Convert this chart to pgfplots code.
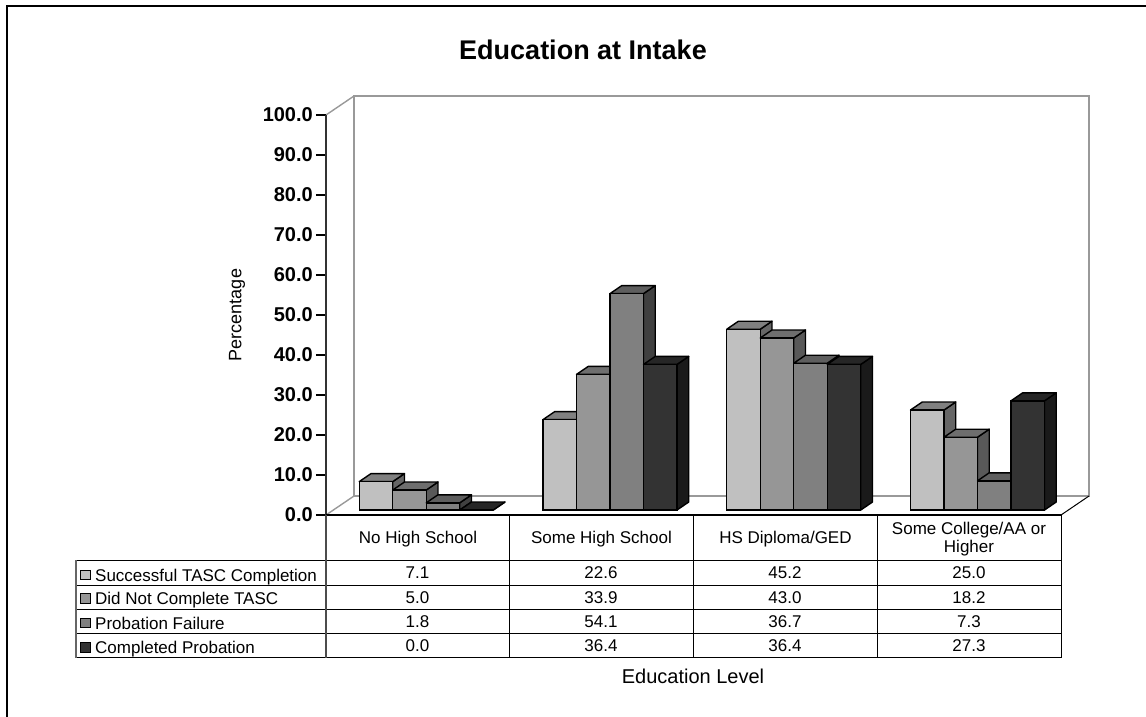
\documentclass[border=0pt]{standalone}
\usepackage{fontspec}
\setmainfont{Liberation Sans}
\usepackage{pgfplots}
\pgfplotsset{compat=1.18}

\definecolor{wallgray}{HTML}{999999}
\definecolor{frontA}{HTML}{C0C0C0}
\definecolor{topA}{HTML}{808080}
\definecolor{sideA}{HTML}{666666}
\definecolor{frontB}{HTML}{969696}
\definecolor{topB}{HTML}{6E6E6E}
\definecolor{sideB}{HTML}{595959}
\definecolor{frontC}{HTML}{808080}
\definecolor{topC}{HTML}{5E5E5E}
\definecolor{sideC}{HTML}{404040}
\definecolor{frontD}{HTML}{333333}
\definecolor{topD}{HTML}{262626}
\definecolor{sideD}{HTML}{1A1A1A}

% depth of a bar: 11.7px across, 8px up (4px per percent, 183.75px per category)
\newcommand{\barfaces}[5]{% top, side, bar shift in px, category, value
  \pgfmathsetmacro{\xl}{#4+(#3-16.75)/183.75}
  \pgfmathsetmacro{\xr}{\xl+33.5/183.75}
  \pgfmathsetmacro{\xb}{\xr+11.7/183.75}
  \pgfmathsetmacro{\xm}{\xl+11.7/183.75}
  \pgfmathsetmacro{\vt}{#5+2}
  \addplot[fill=#2, draw=black, line width=1.4pt, line join=round, yshift=5pt]
    coordinates {(\xr,0) (\xr,#5) (\xb,\vt) (\xb,2)} -- cycle;
  \addplot[fill=#1, draw=black, line width=1.4pt, line join=round, yshift=5pt]
    coordinates {(\xl,#5) (\xr,#5) (\xb,\vt) (\xm,\vt)} -- cycle;
}
\newcommand{\barseries}[6]{% letter, bar shift, four values
  \barfaces{top#1}{side#1}{#2}{0}{#3}
  \barfaces{top#1}{side#1}{#2}{1}{#4}
  \barfaces{top#1}{side#1}{#2}{2}{#5}
  \barfaces{top#1}{side#1}{#2}{3}{#6}
  \addplot[ybar, bar width=33.5pt, bar shift=#2pt, fill=front#1, draw=black,
    line width=1.4pt, yshift=5pt]
    coordinates {(0,#3) (1,#4) (2,#5) (3,#6)};
}

\newcommand{\tbl}{\fontsize{17}{20}\selectfont}

\begin{document}
\begin{tikzpicture}[x=1pt,y=1pt]
\useasboundingbox (0,0) rectangle (1146,-717);

% outer frame, cut by the page on the right and at the bottom
\draw[line width=2pt] (7,-717) -- (7,-6) -- (1146,-6);

\node[font=\bfseries\fontsize{27}{30}\selectfont] at (583,-50) {Education at Intake};

% back wall and floor
\draw[wallgray, line width=1.8pt] (354,-496) -- (354,-96) -- (1089,-96) -- (1089,-496) -- (354,-496);
\draw[wallgray, line width=1.4pt] (326,-115) -- (354,-96);
\draw[wallgray, line width=1.4pt] (326,-515) -- (354,-496);
\draw[black, line width=1pt] (1061,-515) -- (1089,-496);

\begin{axis}[
    at={(326pt,-515pt)},
    anchor=south west,
    scale only axis,
    width=735pt,
    height=400pt,
    xmin=-0.5, xmax=3.5,
    ymin=0, ymax=100,
    clip=false,
    axis x line*=bottom,
    axis y line*=left,
    axis line style={-, line width=1.6pt, black!80},
    xtick=\empty,
    ytick={0,10,...,100},
    tick align=outside,
    major tick length=10pt,
    tick style={black, line width=1.2pt},
    yticklabel style={font=\bfseries\fontsize{20}{22}\selectfont, inner sep=3pt},
    /pgf/number format/assume math mode=true,
    /pgf/number format/fixed,
    /pgf/number format/fixed zerofill,
    /pgf/number format/precision=1,
    ylabel={Percentage},
    every axis y label/.style={at={(-89pt,200pt)}, rotate=90, anchor=center,
      font=\fontsize{18}{20}\selectfont},
]
\barseries{A}{-41.85}{7.1}{22.6}{45.2}{25.0}
\barseries{B}{-8.35}{5.0}{33.9}{43.0}{18.2}
\barseries{C}{25.15}{1.8}{54.1}{36.7}{7.3}
\barseries{D}{58.65}{0.0}{36.4}{36.4}{27.3}
\end{axis}

% data table under the axis
\draw[line width=1.2pt] (326,-515) -- (1061,-515);
\draw[line width=1pt] (76,-560) -- (1061,-560);
\foreach \y in {585,609,633,657.5}
  \draw[line width=1pt] (76,-\y) -- (1061,-\y);
\draw[line width=1.2pt, black!60] (76,-560) -- (76,-657.5);
\draw[line width=1.4pt, black!70] (326,-515) -- (326,-657.5);
\foreach \x in {509.75,693.5,877.25,1061}
  \draw[line width=1pt] (\x,-515) -- (\x,-657.5);

\node[font=\tbl, anchor=base] at (418,-543) {No High School};
\node[font=\tbl, anchor=base] at (601.5,-543) {Some High School};
\node[font=\tbl, anchor=base] at (785.5,-543) {HS Diploma/GED};
\node[font=\tbl, anchor=base] at (969,-534) {Some College/AA or};
\node[font=\tbl, anchor=base] at (969,-552) {Higher};

% legend text sits about 2px lower than the numbers in its row
\foreach \y/\n/\f/\t/\a/\b/\c/\d in {
    581/578.5/frontA/Successful TASC Completion/7.1/22.6/45.2/25.0,
    604.5/603/frontB/Did Not Complete TASC/5.0/33.9/43.0/18.2,
    629/627.5/frontC/Probation Failure/1.8/54.1/36.7/7.3,
    653.5/651.5/frontD/Completed Probation/0.0/36.4/36.4/27.3}{
  \draw[fill=\f, line width=1pt] (80.5,-\y+1.5) rectangle (90.5,-\y+11);
  \node[font=\tbl, anchor=base west, inner sep=0pt] at (95,-\y) {\t};
  \node[font=\tbl, anchor=base, inner sep=0pt] at (417.5,-\n) {\a};
  \node[font=\tbl, anchor=base, inner sep=0pt] at (601,-\n) {\b};
  \node[font=\tbl, anchor=base, inner sep=0pt] at (785,-\n) {\c};
  \node[font=\tbl, anchor=base, inner sep=0pt] at (969,-\n) {\d};
}

\node[font=\fontsize{20}{22}\selectfont] at (693,-676) {Education Level};
\end{tikzpicture}
\end{document}
